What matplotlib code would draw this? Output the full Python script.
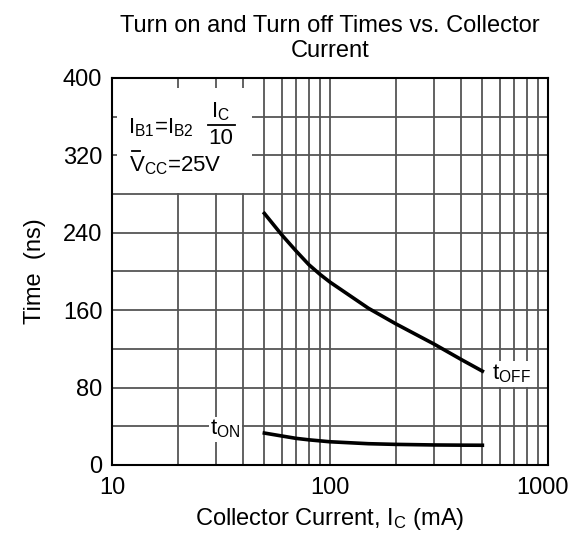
import matplotlib
matplotlib.use("Agg")
import matplotlib.pyplot as plt
import matplotlib.transforms as mtransforms
from matplotlib.patches import Rectangle

plt.rcParams['font.family'] = ['Liberation Sans', 'DejaVu Sans']
plt.rcParams['mathtext.fontset'] = 'custom'
plt.rcParams['mathtext.rm'] = 'Liberation Sans'
plt.rcParams['mathtext.it'] = 'Liberation Sans'

# collector current (mA) and switching times (ns)
ic_off = [50, 60, 70, 80, 90, 100, 150, 200, 300, 400, 500]
t_off = [260, 238, 221, 207, 197, 189, 162, 146, 125, 109, 97]
ic_on = [50, 60, 70, 80, 100, 150, 200, 300, 400, 500]
t_on = [33, 30, 27.5, 26, 24, 22, 21.3, 20.7, 20.5, 20.4]

x_ticks = [10, 100, 1000]
y_ticks = [0, 80, 160, 240, 320, 400]
x_grid = [20, 30, 40, 50, 60, 70, 80, 90, 100, 200, 300, 400, 500, 600, 700, 800, 900]
y_grid = [40, 80, 120, 160, 200, 240, 280, 320, 360]

fig = plt.figure(figsize=(5.7, 5.51), dpi=100)
ax = fig.add_axes([0.1965, 0.1561, 0.7649, 0.7024])
ax.set_xscale('log')
ax.set_xlim(10, 1000)
ax.set_ylim(0, 400)

for g in x_grid:
    ax.axvline(g, color='#555555', lw=1.3, zorder=1)
for g in y_grid:
    ax.axhline(g, color='#555555', lw=1.3, zorder=1)

ax.plot(ic_off, t_off, color='black', lw=2.6, zorder=3)
ax.plot(ic_on, t_on, color='black', lw=2.6, zorder=3)

# white box for the test conditions
ax.add_patch(Rectangle((10.5, 281), 44 - 10.5, 390 - 281, facecolor='white',
                       edgecolor='none', zorder=2))
fs = 16
ax.text(11.9, 349, r'$\mathrm{I_{B1}}$=$\mathrm{I_{B2}}$', fontsize=fs,
        ha='left', va='center', zorder=4)
ax.text(31.5, 365, r'$\mathrm{I_{C}}$', fontsize=fs, ha='center', va='center', zorder=4)
ax.text(31.5, 337, '10', fontsize=fs, ha='center', va='center', zorder=4)
ax.plot([27.5, 36.7], [351, 351], color='black', lw=1.3, zorder=4)
ax.text(12.0, 309, r'$\mathrm{V_{CC}}$=25V', fontsize=fs, ha='left', va='center', zorder=4)
ax.plot([12.3, 13.4], [325, 325], color='black', lw=1.3, zorder=4)

ax.text(33, 37, r'$\mathrm{t_{ON}}$', fontsize=fs, ha='center', va='center', zorder=4,
        bbox=dict(facecolor='white', edgecolor='none', pad=1))
ax.text(680, 94, r'$\mathrm{t_{OFF}}$', fontsize=fs, ha='center', va='center', zorder=4,
        bbox=dict(facecolor='white', edgecolor='none', pad=1))

ax.set_xticks(x_ticks)
ax.set_xticklabels(['10', '100', '1000'])
ax.set_xticks([], minor=True)
ax.set_yticks(y_ticks)
ax.tick_params(length=0, labelsize=17)
ax.tick_params(axis='y', pad=7)
ax.tick_params(axis='x', pad=9)
last = ax.get_xticklabels()[-1]
last.set_transform(last.get_transform() +
                   mtransforms.ScaledTranslation(-5 / 100, 0, fig.dpi_scale_trans))
for s in ax.spines.values():
    s.set_linewidth(1.5)
    s.set_zorder(5)

ax.set_xlabel(r'Collector Current, $\mathrm{I_C}$ (mA)', fontsize=17, labelpad=5)
ax.set_ylabel('Time  (ns)', fontsize=17, labelpad=12)
ax.set_title('Turn on and Turn off Times vs. Collector\nCurrent', fontsize=17, pad=15)

fig.savefig('out.png', dpi=100)
